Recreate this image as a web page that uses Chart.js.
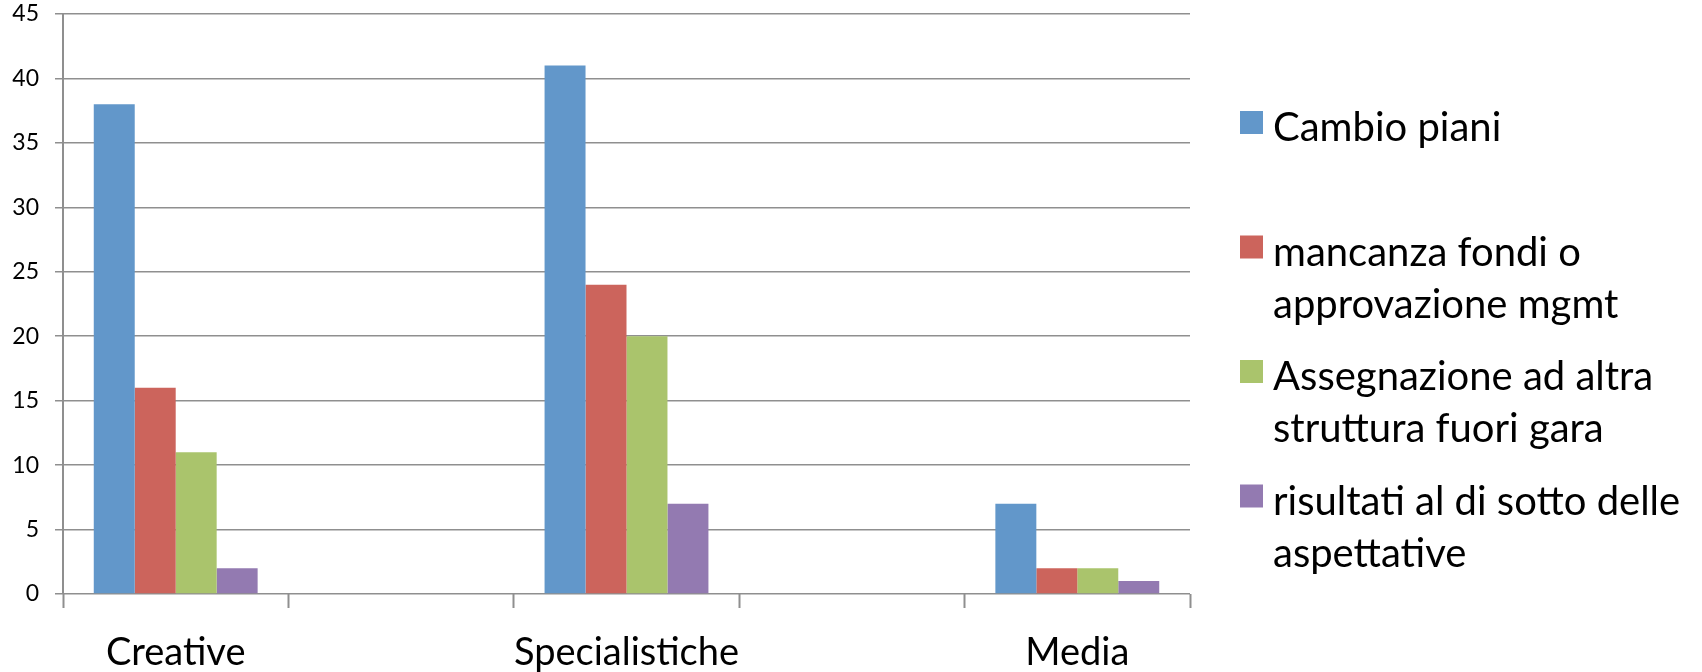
<!DOCTYPE html>
<html>
<head>
<meta charset="utf-8">
<script src="https://cdn.jsdelivr.net/npm/chart.js@4"></script>
<style>
  body { margin: 0; background: #fff; }
  #wrap { width: 1702px; height: 672px; }
</style>
</head>
<body>
<div id="wrap"><canvas id="motiviChart" width="1702" height="672"></canvas></div>
<script>
// empty slots between groups keep the wide gaps between agencies
const categories = ['Creative', '', 'Specialistiche', '', 'Media'];
const seriesNames = [
  'Cambio piani',
  'mancanza fondi o approvazione mgmt',
  'Assegnazione ad altra struttura fuori gara',
  'risultati al di sotto delle aspettative'
];
const cambioPiani = [38, null, 41, null, 7];
const mancanzaFondi = [16, null, 24, null, 2];
const assegnazione = [11, null, 20, null, 2];
const risultati = [2, null, 7, null, 1];
const yTicks = [0, 5, 10, 15, 20, 25, 30, 35, 40, 45];

const colors = ['#6297ca', '#cc645c', '#aac46c', '#937ab1'];
const gridColor = '#8f8f8f';
const fontFamily = 'Lato, "Open Sans", sans-serif';

// legend on the right, one square per series, labels wrapped on words
const sideLegend = {
  id: 'sideLegend',
  afterDraw(chart, args, opts) {
    const ctx = chart.ctx;
    ctx.save();
    ctx.font = opts.fontSize + 'px ' + fontFamily;
    ctx.textBaseline = 'alphabetic';
    chart.data.datasets.forEach((ds, i) => {
      const top = opts.firstTop + i * opts.step;
      ctx.fillStyle = ds.backgroundColor;
      ctx.fillRect(opts.x, top, opts.box, opts.box);
      ctx.fillStyle = '#000';
      const words = ds.label.split(' ');
      const lines = [];
      let line = '';
      words.forEach(w => {
        const test = line ? line + ' ' + w : w;
        if (ctx.measureText(test).width > opts.maxWidth && line) {
          lines.push(line);
          line = w;
        } else {
          line = test;
        }
      });
      lines.push(line);
      lines.forEach((l, k) => {
        ctx.fillText(l, opts.x + opts.box + 10, top + opts.baseline + k * opts.lineHeight);
      });
    });
    ctx.restore();
  }
};

const ctx = document.getElementById('motiviChart').getContext('2d');
const motiviChart = new Chart(ctx, {
  type: 'bar',
  data: {
    labels: categories,
    datasets: [
      { label: seriesNames[0], data: cambioPiani, backgroundColor: colors[0] },
      { label: seriesNames[1], data: mancanzaFondi, backgroundColor: colors[1] },
      { label: seriesNames[2], data: assegnazione, backgroundColor: colors[2] },
      { label: seriesNames[3], data: risultati, backgroundColor: colors[3] }
    ]
  },
  options: {
    responsive: false,
    animation: false,
    datasets: {
      bar: { barPercentage: 1, categoryPercentage: 0.727 }
    },
    layout: {
      padding: { top: 14, right: 512, bottom: 0, left: 0 }
    },
    plugins: {
      legend: { display: false },
      tooltip: { enabled: false },
      sideLegend: {
        x: 1240, firstTop: 111, step: 124.5, box: 23,
        baseline: 30, lineHeight: 52, fontSize: 40, maxWidth: 410
      }
    },
    scales: {
      x: {
        grid: {
          offset: true,
          drawOnChartArea: false,
          drawTicks: true,
          tickLength: 14,
          tickWidth: 2,
          tickColor: gridColor
        },
        border: { display: false },
        ticks: {
          color: '#000',
          padding: 22,
          autoSkip: false,
          maxRotation: 0,
          minRotation: 0,
          font: { family: fontFamily, size: 38 }
        },
        afterFit(scale) {
          scale.height = 78;
          scale.paddingLeft = 0;
          scale.paddingRight = 0;
        }
      },
      y: {
        min: 0,
        max: 45,
        afterBuildTicks(scale) {
          scale.ticks = yTicks.map(v => ({ value: v }));
        },
        grid: {
          color: gridColor,
          lineWidth: 1.5,
          tickLength: 8
        },
        border: { display: true, color: gridColor, width: 2 },
        ticks: {
          color: '#000',
          padding: 16,
          font: { family: fontFamily, size: 23 }
        },
        afterFit(scale) {
          scale.width = 63;
          scale.paddingTop = 0;
          scale.paddingBottom = 0;
        }
      }
    }
  },
  plugins: [sideLegend]
});
</script>
</body>
</html>
